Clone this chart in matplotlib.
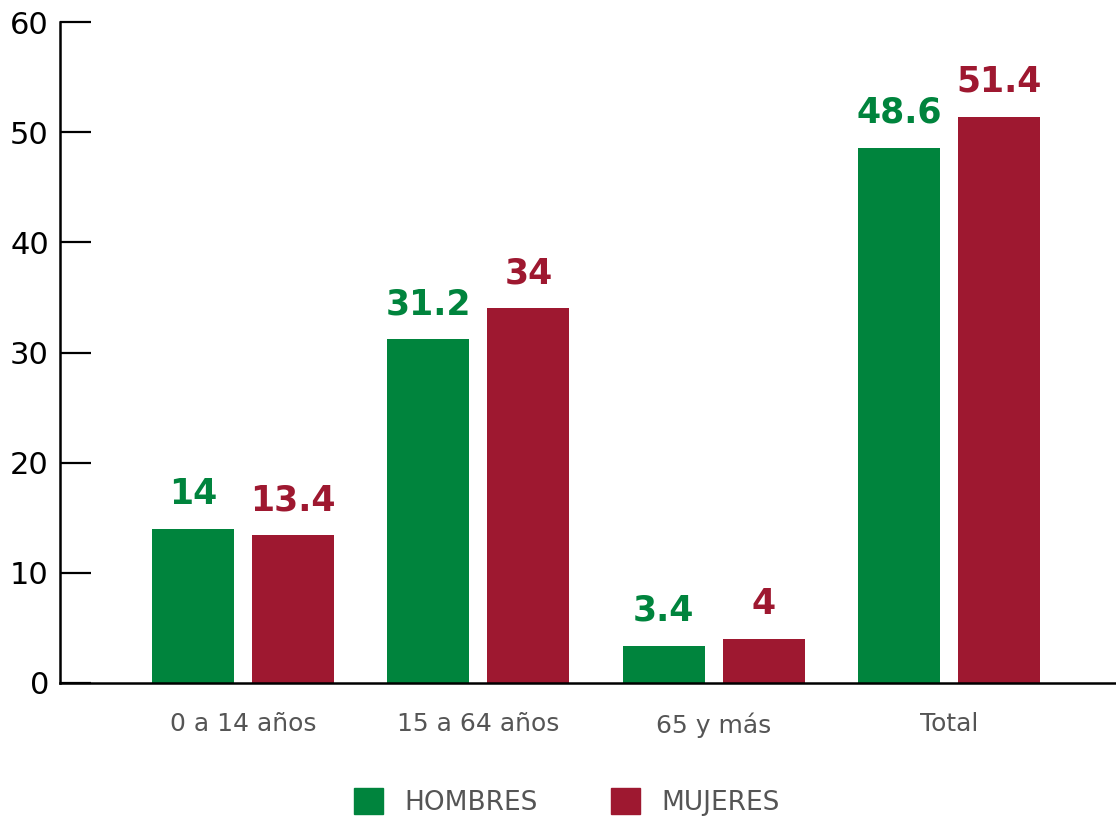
import numpy as np
import matplotlib
matplotlib.use('Agg')
import matplotlib.pyplot as plt
from matplotlib.patches import Patch

categorias = ['0 a 14 años', '15 a 64 años', '65 y más', 'Total']
hombres = [14, 31.2, 3.4, 48.6]
mujeres = [13.4, 34, 4, 51.4]
etiquetas_h = ['14', '31.2', '3.4', '48.6']
etiquetas_m = ['13.4', '34', '4', '51.4']
yticks = [0, 10, 20, 30, 40, 50, 60]

verde = '#00843D'
rojo = '#9E1830'
gris = '#555555'

fig = plt.figure(figsize=(11.16, 8.16), dpi=100)
ax = fig.add_axes([0.0538, 0.163, 0.9462, 0.81])

x = np.arange(len(categorias))
ancho = 0.349
off = 0.2125
b1 = ax.bar(x - off, hombres, ancho, color=verde)
b2 = ax.bar(x + off, mujeres, ancho, color=rojo)

for barras, etq, col in [(b1, etiquetas_h, verde), (b2, etiquetas_m, rojo)]:
    for b, t in zip(barras, etq):
        ax.annotate(t, (b.get_x() + b.get_width() / 2, b.get_height()),
                    xytext=(0, 13), textcoords='offset points',
                    ha='center', va='bottom', color=col,
                    fontsize=25, fontweight='bold', family='DejaVu Sans')

ax.set_xlim(-0.778, 3.71)
ax.set_ylim(0, 60)
ax.set_yticks(yticks)
ax.set_yticklabels([str(v) for v in yticks], fontsize=22, family='DejaVu Sans')
ax.tick_params(axis='y', direction='in', length=22, width=1.6, pad=8)
ax.set_xticks(x)
ax.set_xticklabels(categorias, fontsize=18, color=gris, family='DejaVu Sans')
ax.tick_params(axis='x', length=0, pad=21)

for s in ['top', 'right']:
    ax.spines[s].set_visible(False)
ax.spines['left'].set_linewidth(1.8)
ax.spines['bottom'].set_linewidth(1.8)

handles = [Patch(color=verde, label='HOMBRES'), Patch(color=rojo, label='MUJERES')]
fig.legend(handles=handles, loc='center', bbox_to_anchor=(0.508, 0.017),
           ncol=2, frameon=False, labelcolor=gris,
           handlelength=1.1, handleheight=1.1, columnspacing=2.8, handletextpad=0.8,
           prop={'family': 'DejaVu Sans', 'size': 19})

fig.savefig('out.png', dpi=100)
